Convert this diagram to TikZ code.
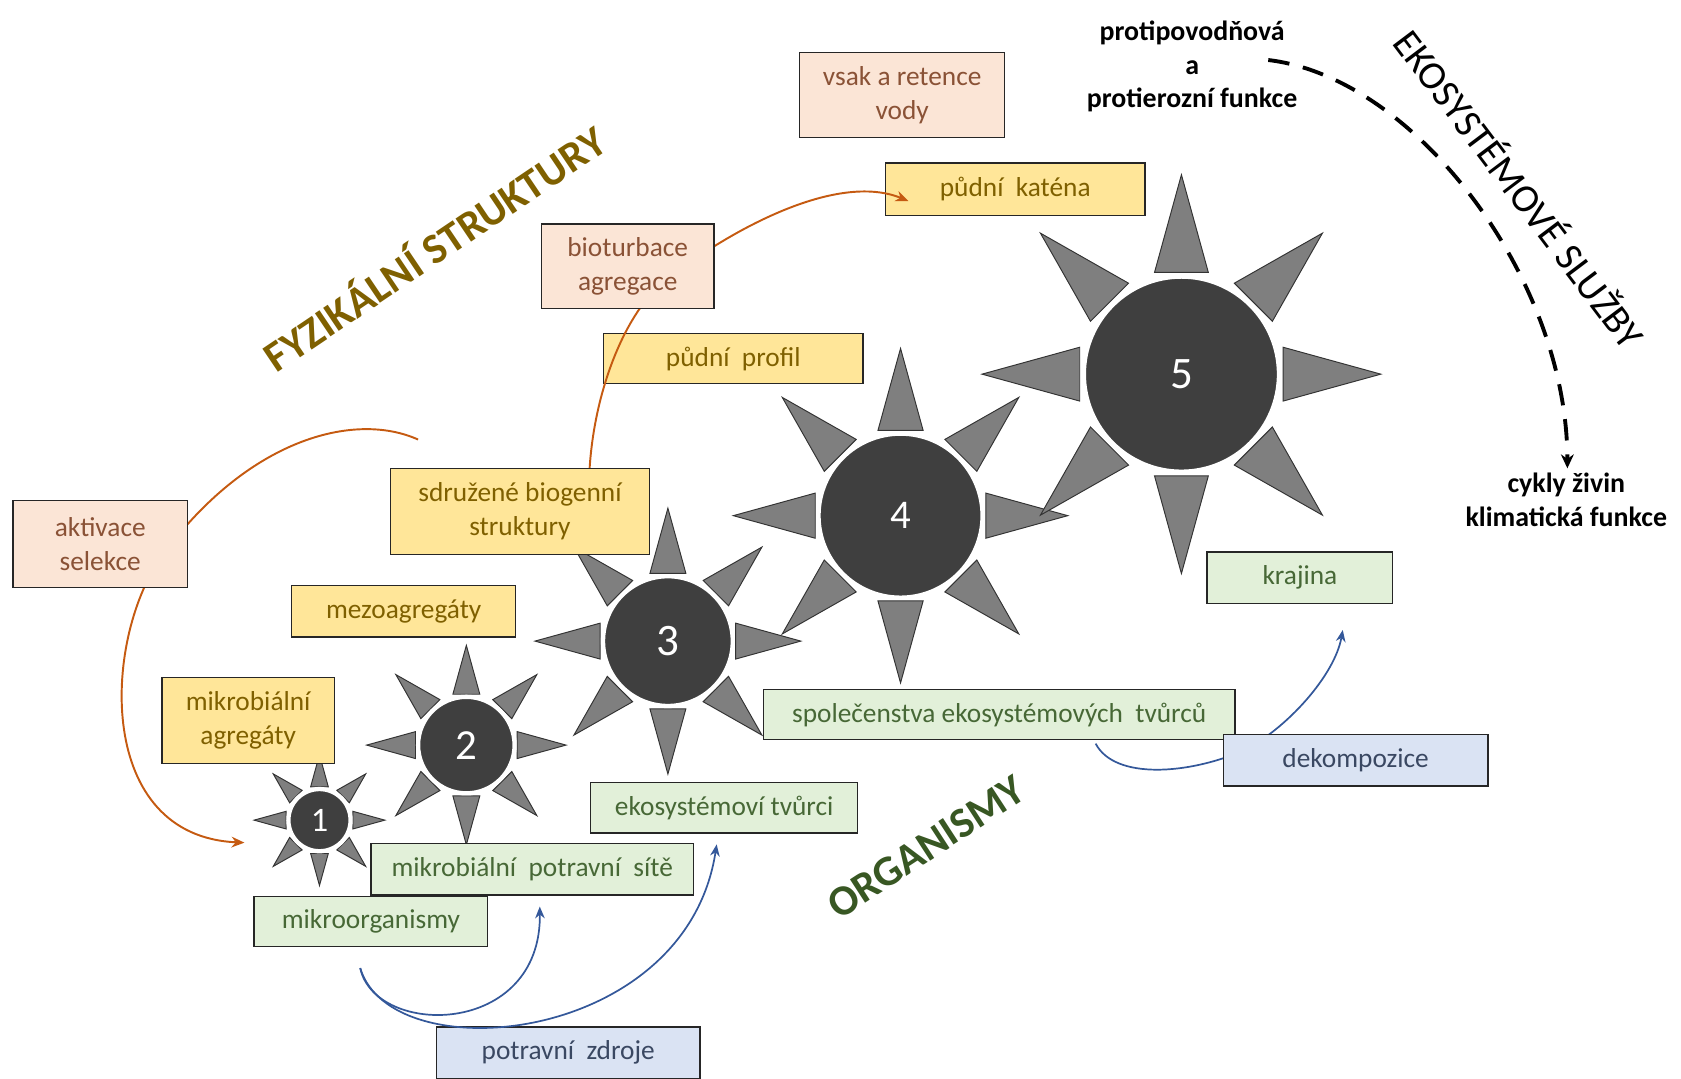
\documentclass[tikz,border=0pt]{standalone}
\usepackage{fontspec}
\setmainfont{Carlito}
\usetikzlibrary{arrows.meta,calc}

\definecolor{boxline}{HTML}{262626}
\definecolor{pinkfill}{HTML}{FBE5D6}
\definecolor{pinktext}{HTML}{8A5236}
\definecolor{goldfill}{HTML}{FFE699}
\definecolor{goldtext}{HTML}{7F6000}
\definecolor{greenfill}{HTML}{E2F0D9}
\definecolor{greentext}{HTML}{476836}
\definecolor{bluefill}{HTML}{DAE3F3}
\definecolor{bluetext}{HTML}{3A4862}
\definecolor{orangeline}{HTML}{C55A11}
\definecolor{blueline}{HTML}{34589A}
\definecolor{rayfill}{HTML}{7F7F7F}
\definecolor{rayline}{HTML}{333333}
\definecolor{corefill}{HTML}{3F3F3F}
\definecolor{headgreen}{HTML}{385723}

% eight triangular rays of a sun centred at (#1,#2), tip radius #3
\newcommand{\sunrays}[3]{%
  \foreach \a in {0,45,...,315}{%
    \draw[ray, shift={(#1,#2)}, rotate=\a]
      (#3,0) -- (0.51*#3,0.135*#3) -- (0.51*#3,-0.135*#3) -- cycle;}}

\begin{document}
\begin{tikzpicture}[x=1pt, y=-1pt,
  tagbox/.style={draw=boxline, line width=1.3pt, align=center, inner sep=0pt,
    font=\fontsize{25.5}{31.5}\selectfont},
  pinkbox/.style={tagbox, fill=pinkfill, text=pinktext},
  goldbox/.style={tagbox, fill=goldfill, text=goldtext},
  greenbox/.style={tagbox, fill=greenfill, text=greentext},
  bluebox/.style={tagbox, fill=bluefill, text=bluetext},
  ray/.style={fill=rayfill, draw=rayline, line width=0.9pt},
  suncore/.style={circle, fill=corefill, draw=white, line width=4pt,
    inner sep=0pt, text=white},
  orangearrow/.style={draw=orangeline, line width=1.8pt,
    -{Stealth[length=12pt, width=10pt]}},
  bluearrow/.style={draw=blueline, line width=1.6pt,
    -{Stealth[length=11pt, width=9pt]}},
  servicearrow/.style={draw=black, line width=3.6pt, dash pattern=on 20pt off 13pt,
    -{Stealth[length=13pt, width=12pt]}},
  heading/.style={font=\fontsize{40}{40}\selectfont\bfseries, inner sep=0pt},
  service/.style={align=center, inner sep=0pt,
    font=\fontsize{26}{31.5}\selectfont\bfseries}]

\useasboundingbox (0,0) rectangle (1568,1006);

% ---- suns ----
\sunrays{298}{765}{61}
\node[suncore, minimum size=58pt, font=\fontsize{32}{32}\selectfont] (s1) at (298,765) {1};
\sunrays{435}{695}{93}
\node[suncore, minimum size=90pt, font=\fontsize{40}{40}\selectfont] (s2) at (435,695) {2};
\sunrays{623}{598}{124}
\node[suncore, minimum size=121pt, font=\fontsize{42}{42}\selectfont] (s3) at (623,598) {3};
\sunrays{840}{481}{156}
\node[suncore, minimum size=153pt, font=\fontsize{38}{38}\selectfont] (s4) at (840,481) {4};
\sunrays{1102}{349}{186}
\node[suncore, minimum size=182pt, font=\fontsize{42}{42}\selectfont] (s5) at (1102,349) {5};

% ---- physical structures ----
\node[goldbox, minimum width=242, minimum height=49] (katena) at (947,176.5) {půdní~ katéna};
\node[goldbox, minimum width=242, minimum height=47] (profil) at (684,334.5) {půdní~ profil};
\node[goldbox, minimum width=242, minimum height=80] (sdruzene) at (485,477) {sdružené biogenní\\struktury};
\node[goldbox, minimum width=209, minimum height=48] (mezo) at (376.5,570) {mezoagregáty};
\node[goldbox, minimum width=161, minimum height=80] (mikroagr) at (231.5,672) {mikrobiální\\agregáty};
\node[pinkbox, minimum width=191, minimum height=79] (vsak) at (841.5,88.5) {vsak a retence\\vody};

% ---- organisms ----
\node[greenbox, minimum width=218, minimum height=47] (mikroorg) at (346,859.5) {mikroorganismy};
\node[greenbox, minimum width=301, minimum height=48] (potravsite) at (496.5,811) {mikrobiální~ potravní~ sítě};
\node[greenbox, minimum width=249, minimum height=47] (ekotvurci) at (675.5,753.5) {ekosystémoví tvůrci};
\node[greenbox, minimum width=440, minimum height=47] (spolecenstva) at (932,666.5) {společenstva ekosystémových~ tvůrců};
\node[greenbox, minimum width=173, minimum height=48] (krajina) at (1212.5,539) {krajina};
\node[bluebox, minimum width=246, minimum height=48] (zdroje) at (530,982) {potravní~ zdroje};

% ---- processes linking the scales ----
\coordinate (biomid) at (620,262);
\draw[orangearrow] ($(sdruzene.north)+(65,0)$) .. controls (555,360) and (585,290) .. (biomid)
  .. controls (680,215) and (780,160) .. ($(katena.west)+(22,11)$);
\node[pinkbox, minimum width=161, minimum height=79] (bioturbace) at (585.5,248.5) {bioturbace\\agregace};

\coordinate (actsrc) at (390,410);
\coordinate (actmid) at (150,520);
\draw[orangearrow] (actsrc) .. controls (330,383) and (230,410) .. (actmid)
  .. controls (95,600) and (90,780) .. ($(s1)+(-70,21)$);
\node[pinkbox, minimum width=163, minimum height=81] (aktivace) at (93.5,507.5) {aktivace\\selekce};

\coordinate (foodsrc) at (336,903);
\draw[bluearrow] (foodsrc) .. controls (350,968) and (505,968) .. ($(potravsite.south)+(7,10)$);
\draw[bluearrow] (foodsrc) .. controls (365,1000) and (640,975) .. ($(ekotvurci.south)+(-7,10)$);

\coordinate (dekmid) at (1160,700);
\draw[bluearrow] ($(spolecenstva.south)+(90,3)$) .. controls (1040,728) and (1110,722) .. (dekmid)
  .. controls (1200,680) and (1245,630) .. ($(krajina.south)+(40,24)$);
\node[bluebox, minimum width=247, minimum height=48] (dekompozice) at (1264.5,709) {dekompozice};

% ---- headings ----
\node[heading, text=goldtext, rotate=34] (fyz) at (404,230) {FYZIKÁLNÍ STRUKTURY};
\node[heading, text=headgreen, rotate=33] (org) at (864,790) {ORGANISMY};
\node[inner sep=0pt, font=\fontsize{37}{37}\selectfont, rotate=-53] (eko) at (1419,175) {EKOSYSTÉMOVÉ SLUŽBY};

% ---- ecosystem services ----
\node[service] (proti) at (1112,62) {protipovodňová\\a\\protierozní funkce};
\node[service] (cykly) at (1461,466) {cykly živin\\klimatická funkce};
\draw[servicearrow] ($(proti.center)+(71,-6)$) .. controls (1320,72) and (1462,260) .. ($(cykly.north)+(1,-4)$);

\end{tikzpicture}
\end{document}
